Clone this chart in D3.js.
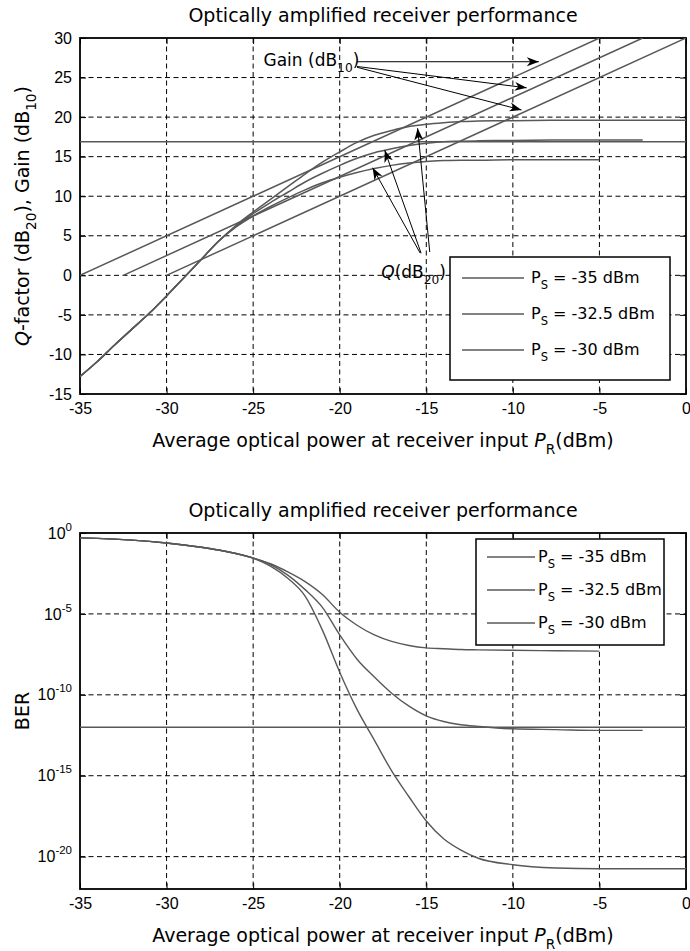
<!DOCTYPE html>
<html>
<head>
<meta charset="utf-8">
<script src="https://cdn.jsdelivr.net/npm/d3@7"></script>
<style>
  body { margin: 0; background: #fff; }
  svg { font-family: "DejaVu Sans", "Liberation Sans", Arial, sans-serif; }
</style>
</head>
<body>
<svg id="fig" width="690" height="951"></svg>
<script>
// ---- data ----
const psLabels = ["-35", "-32.5", "-30"];          // P_S in dBm
const prGrid = [-35, -34, -33, -32, -31, -30, -29, -28, -27, -26, -25, -24, -23, -22, -21, -20,
                -19, -18, -17, -16, -15, -14, -13, -12, -10, -7.5, -5, -2.5, 0];

// Q factor (dB20) vs P_R, one array per P_S (null = not computed)
const qPs35  = [-12.8, -10.9, -8.8, -6.8, -4.8, -2.6, -0.3, 2.0, 4.3, 6.1, 7.5, 8.7, 9.8, 10.8, 11.7, 12.4,
                13.0, 13.5, 13.9, 14.2, 14.4, 14.5, 14.55, 14.55, 14.6, 14.6, 14.6, null, null];
const qPs325 = [-12.8, -10.9, -8.8, -6.8, -4.8, -2.6, -0.3, 2.0, 4.3, 6.2, 7.8, 9.2, 10.5, 11.8, 12.9, 13.9,
                14.8, 15.5, 16.0, 16.4, 16.7, 16.9, 16.95, 17.0, 17.05, 17.1, 17.1, 17.1, null];
const qPs30  = [-12.8, -10.9, -8.8, -6.8, -4.8, -2.6, -0.3, 2.0, 4.3, 6.3, 8.0, 9.6, 11.2, 12.8, 14.3, 15.6,
                16.8, 17.7, 18.3, 18.8, 19.1, 19.3, 19.45, 19.5, 19.55, 19.6, 19.6, 19.6, 19.6];
const qRef = 16.9;                                   // Q for BER = 1e-12

// gain (dB10) lines, end points [P_R, gain]
const gainLines = [
  [[-35, 0], [-5, 30]],
  [[-32.5, 0], [-2.5, 30]],
  [[-30, 0], [0, 30]]
];

// BER exponents (log10 BER) vs P_R
const berPs35  = [-0.3, -0.33, -0.38, -0.44, -0.52, -0.62, -0.74, -0.88, -1.05, -1.27, -1.55, -1.9, -2.4, -3.0, -3.8, -4.9,
                  -5.7, -6.3, -6.7, -6.95, -7.1, -7.15, -7.2, -7.22, -7.25, -7.28, -7.3, null, null];
const berPs325 = [-0.3, -0.33, -0.38, -0.44, -0.52, -0.62, -0.74, -0.88, -1.05, -1.27, -1.55, -1.95, -2.6, -3.5, -4.6, -6.3,
                  -7.8, -8.9, -9.9, -10.7, -11.3, -11.65, -11.85, -11.95, -12.1, -12.15, -12.2, -12.2, null];
const berPs30  = [-0.3, -0.33, -0.38, -0.44, -0.52, -0.62, -0.74, -0.88, -1.05, -1.27, -1.55, -2.05, -2.8, -3.9, -6.0, -8.6,
                  -10.9, -12.8, -14.7, -16.3, -17.8, -18.9, -19.6, -20.1, -20.5, -20.7, -20.75, -20.75, -20.75];
const berRef = -12;

// tick values
const xTicks = [-35, -30, -25, -20, -15, -10, -5, 0];
const qTicks = [-15, -10, -5, 0, 5, 10, 15, 20, 25, 30];
const berTicks = [0, -5, -10, -15, -20];             // exponents

// annotation anchors, in data units
const gainLabel = {x: -24.4, y: 26.4};
const gainArrows = [[[-19.0, 27.0], [-8.5, 27.0]], [[-19.0, 26.4], [-9.2, 23.7]], [[-19.0, 26.3], [-9.5, 20.9]]];
const qLabel = {x: -17.6, y: -0.3};
const qArrows = [[[-15.35, 2.8], [-18.1, 13.6]], [[-15.3, 2.8], [-17.4, 15.8]], [[-14.8, 2.95], [-15.5, 18.6]]];

// ---- layout ----
const LEFT = 80, RIGHT = 686;
const curveColor = "#585858";
const svg = d3.select("#fig");

const defs = svg.append("defs");
defs.append("marker")
    .attr("id", "ah")
    .attr("viewBox", "-12 -5 13 10")
    .attr("refX", 0).attr("refY", 0)
    .attr("markerWidth", 13).attr("markerHeight", 10)
    .attr("markerUnits", "userSpaceOnUse")
    .attr("orient", "auto")
  .append("path")
    .attr("d", "M0,0 L-12,-4.5 L-8.5,0 L-12,4.5 Z")
    .attr("fill", "#000");

// text with sub/superscripts
function richText(sel, parts, size) {
  const t = sel.append("text").attr("font-size", size).attr("fill", "#000");
  let shift = 0;
  parts.forEach(p => {
    const s = t.append("tspan").text(p.t);
    const target = p.sub ? size * 0.35 : p.sup ? -size * 0.5 : 0;
    if (target !== shift) { s.attr("dy", target - shift); shift = target; }
    if (p.sub || p.sup) s.attr("font-size", size * 0.72);
    if (p.it) s.attr("font-style", "italic");
  });
  return t;
}

const plainNum = d => String(d);   // keep the short hyphen of the original

function drawFrame(yScale, yTicks, yTickParts, top, bottom, title, yLabelParts) {
  const g = svg.append("g");
  // grid
  g.selectAll(".vg").data(xTicks.filter(v => v > -35 && v < 0)).enter()
    .append("line")
      .attr("x1", d => x(d)).attr("x2", d => x(d))
      .attr("y1", top).attr("y2", bottom)
      .attr("stroke", "#000").attr("stroke-dasharray", "5,3.5");
  g.selectAll(".hg").data(yTicks.filter(v => yScale(v) > top + 1 && yScale(v) < bottom - 1)).enter()
    .append("line")
      .attr("x1", LEFT).attr("x2", RIGHT)
      .attr("y1", d => yScale(d)).attr("y2", d => yScale(d))
      .attr("stroke", "#000").attr("stroke-dasharray", "5,3.5");

  // ticks on all four sides, pointing inward
  const xb = g.append("g").attr("transform", `translate(0,${bottom})`)
    .call(d3.axisBottom(x).tickValues(xTicks).tickFormat(plainNum)
      .tickSizeInner(-6).tickSizeOuter(0).tickPadding(9));
  g.append("g").attr("transform", `translate(0,${top})`)
    .call(d3.axisTop(x).tickValues(xTicks).tickSizeInner(-6).tickSizeOuter(0).tickFormat(""));
  const yl = g.append("g").attr("transform", `translate(${LEFT},0)`)
    .call(d3.axisLeft(yScale).tickValues(yTicks).tickFormat(plainNum)
      .tickSizeInner(-6).tickSizeOuter(0).tickPadding(8));
  g.append("g").attr("transform", `translate(${RIGHT},0)`)
    .call(d3.axisRight(yScale).tickValues(yTicks).tickSizeInner(-6).tickSizeOuter(0).tickFormat(""));
  g.selectAll(".domain").remove();
  g.selectAll(".tick line").attr("stroke", "#000");
  xb.selectAll("text").attr("font-size", 16).attr("font-family", null);
  yl.selectAll("text").attr("font-size", 16).attr("font-family", null);
  if (yTickParts) {
    yl.selectAll(".tick text").each(function(d) {
      const t = d3.select(this).text("");
      t.append("tspan").text("10");
      t.append("tspan").text(yTickParts(d)).attr("font-size", 11.5).attr("dy", -8);
    });
  }

  g.append("rect")
    .attr("x", LEFT).attr("y", top)
    .attr("width", RIGHT - LEFT).attr("height", bottom - top)
    .attr("fill", "none").attr("stroke", "#000").attr("stroke-width", 1.8);

  // title and axis labels
  g.append("text").text(title)
    .attr("x", (LEFT + RIGHT) / 2).attr("y", top - 16)
    .attr("text-anchor", "middle").attr("font-size", 19);
  richText(g, [{t: "Average optical power at receiver input "}, {t: "P", it: true}, {t: "R", sub: true}, {t: "(dBm)"}], 19)
    .attr("x", (LEFT + RIGHT) / 2).attr("y", bottom + 53)
    .attr("text-anchor", "middle");
  richText(g, yLabelParts, 19)
    .attr("text-anchor", "middle")
    .attr("transform", `translate(29,${(top + bottom) / 2}) rotate(-90)`);
  return g;
}

function drawLegend(g, box, rows, lineX, textX) {
  g.append("rect")
    .attr("x", box.x).attr("y", box.y).attr("width", box.w).attr("height", box.h)
    .attr("fill", "#fff").attr("stroke", "#000").attr("stroke-width", 1.5);
  psLabels.forEach((ps, i) => {
    const yy = box.y + rows[i];
    g.append("line")
      .attr("x1", box.x + lineX[0]).attr("x2", box.x + lineX[1])
      .attr("y1", yy).attr("y2", yy)
      .attr("stroke", curveColor).attr("stroke-width", 1.4);
    richText(g, [{t: "P"}, {t: "S", sub: true}, {t: " = " + ps + " dBm"}], 16)
      .attr("x", box.x + textX).attr("y", yy + 5);
  });
}

const x = d3.scaleLinear().domain([-35, 0]).range([LEFT, RIGHT]);

// ---- top panel: Q and gain ----
const T1 = 38, B1 = 394;
const yQ = d3.scaleLinear().domain([-15, 30]).range([B1, T1]);

const g1 = drawFrame(yQ, qTicks, null, T1, B1, "Optically amplified receiver performance",
  [{t: "Q", it: true}, {t: "-factor (dB"}, {t: "20", sub: true}, {t: "), Gain (dB"}, {t: "10", sub: true}, {t: ")"}]);

defs.append("clipPath").attr("id", "clip1")
  .append("rect").attr("x", LEFT).attr("y", T1).attr("width", RIGHT - LEFT).attr("height", B1 - T1);
const plot1 = g1.append("g").attr("clip-path", "url(#clip1)");

const qLine = d3.line()
  .defined(d => d[1] != null)
  .x(d => x(d[0])).y(d => yQ(d[1]))
  .curve(d3.curveMonotoneX);

[qPs35, qPs325, qPs30].forEach(series => {
  plot1.append("path")
    .datum(prGrid.map((p, i) => [p, series[i]]))
    .attr("d", qLine)
    .attr("fill", "none").attr("stroke", curveColor).attr("stroke-width", 1.5);
});
gainLines.forEach(seg => {
  plot1.append("path").datum(seg).attr("d", qLine.curve(d3.curveLinear))
    .attr("fill", "none").attr("stroke", curveColor).attr("stroke-width", 1.5);
});
plot1.append("path").datum([[-35, qRef], [0, qRef]]).attr("d", qLine)
  .attr("fill", "none").attr("stroke", curveColor).attr("stroke-width", 1.5);

// annotations
richText(g1, [{t: "Gain (dB"}, {t: "10", sub: true}, {t: ")"}], 17)
  .attr("x", x(gainLabel.x)).attr("y", yQ(gainLabel.y));
richText(g1, [{t: "Q", it: true}, {t: "(dB"}, {t: "20", sub: true}, {t: ")"}], 17)
  .attr("x", x(qLabel.x)).attr("y", yQ(qLabel.y));
gainArrows.concat(qArrows).forEach(a => {
  g1.append("line")
    .attr("x1", x(a[0][0])).attr("y1", yQ(a[0][1]))
    .attr("x2", x(a[1][0])).attr("y2", yQ(a[1][1]))
    .attr("stroke", "#000").attr("stroke-width", 1)
    .attr("marker-end", "url(#ah)");
});

drawLegend(g1, {x: 450, y: 257, w: 220, h: 123}, [21, 57, 93], [12, 74], 81);

// ---- bottom panel: BER ----
const T2 = 533, B2 = 889;
const yB = d3.scaleLinear().domain([-22, 0]).range([B2, T2]);   // log10 BER

const g2 = drawFrame(yB, berTicks, d => String(d), T2, B2, "Optically amplified receiver performance",
  [{t: "BER"}]);

defs.append("clipPath").attr("id", "clip2")
  .append("rect").attr("x", LEFT).attr("y", T2).attr("width", RIGHT - LEFT).attr("height", B2 - T2);
const plot2 = g2.append("g").attr("clip-path", "url(#clip2)");

const berLine = d3.line()
  .defined(d => d[1] != null)
  .x(d => x(d[0])).y(d => yB(d[1]))
  .curve(d3.curveMonotoneX);

[berPs35, berPs325, berPs30].forEach(series => {
  plot2.append("path")
    .datum(prGrid.map((p, i) => [p, series[i]]))
    .attr("d", berLine)
    .attr("fill", "none").attr("stroke", curveColor).attr("stroke-width", 1.4);
});
plot2.append("path").datum([[-35, berRef], [0, berRef]]).attr("d", berLine)
  .attr("fill", "none").attr("stroke", curveColor).attr("stroke-width", 1.5);

drawLegend(g2, {x: 476, y: 539, w: 188, h: 106}, [18, 51, 84], [11, 59], 62);
</script>
</body>
</html>
